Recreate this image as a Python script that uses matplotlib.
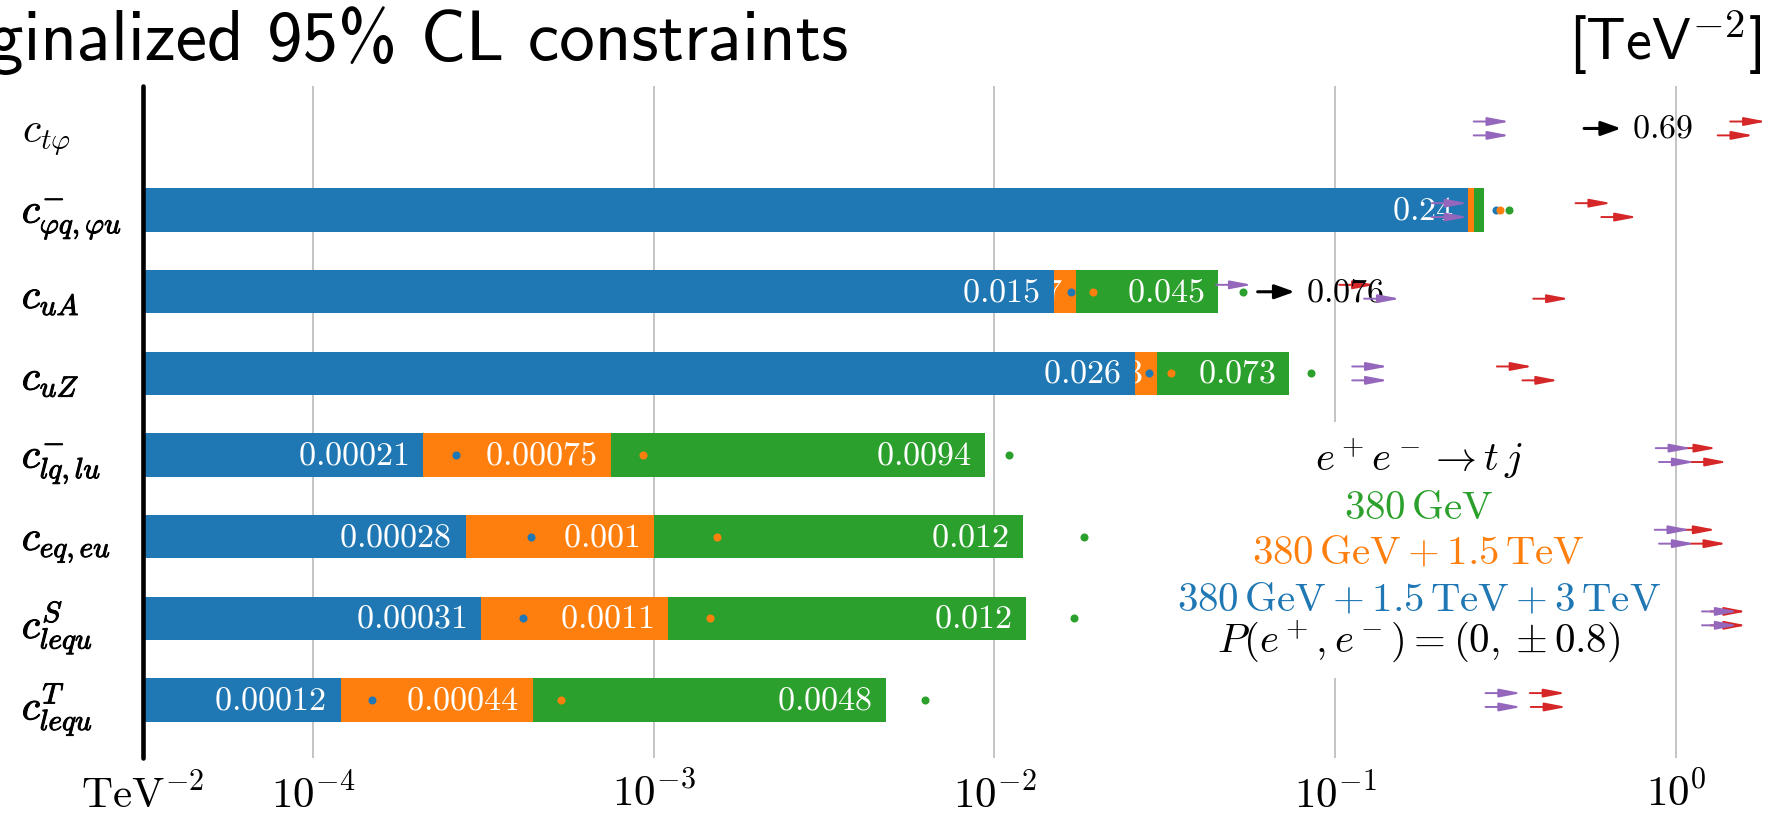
import numpy as np
import matplotlib
matplotlib.use("Agg")
import matplotlib.pyplot as plt
from matplotlib import patheffects
from matplotlib.patches import Rectangle

plt.rcParams['mathtext.fontset'] = 'cm'

nan = np.nan

# ---------------- data ----------------
coefficients = [r'$c_{t\varphi}$', r'$c^{-}_{\varphi q,\varphi u}$', r'$c_{uA}$', r'$c_{uZ}$',
                r'$c^{-}_{lq,lu}$', r'$c_{eq,eu}$', r'$c^{S}_{lequ}$', r'$c^{T}_{lequ}$']
bold_rows = [False, True, True, True, True, True, True, True]

# marginalized 95% CL bounds (bars)
bound_380 = [nan, 0.2725, 0.0454, 0.0734, 0.0094, 0.0121, 0.0124, 0.0048]        # green
bound_1500 = [nan, 0.2546, 0.0174, 0.0299, 0.00075, 0.001, 0.0011, 0.00044]     # orange
bound_3000 = [nan, 0.245, 0.0149, 0.0258, 0.00021, 0.00028, 0.00031, 0.00012]    # blue

# dots
dot_380 = [nan, 0.323, 0.0535, 0.0848, 0.01104, 0.0183, 0.0171, 0.00624]
dot_1500 = [nan, 0.304, 0.0195, 0.0329, 0.000933, 0.00153, 0.00146, 0.000533]
dot_3000 = [nan, 0.296, 0.0168, 0.0284, 0.000262, 0.000437, 0.000413, 0.000149]

# arrows (tip positions), upper / lower of each row
purple_upper = [0.325, 0.245, 0.057, 0.143, 1.112, 1.104, 1.52, 0.352]
purple_lower = [0.325, 0.245, 0.155, 0.143, 1.137, 1.137, 1.52, 0.352]
red_upper = [1.84, 0.647, 0.131, 0.38, 1.316, 1.31, 1.61, 0.475]
red_lower = [1.69, 0.77, 0.486, 0.452, 1.415, 1.408, 1.61, 0.478]
black_arrow = [0.69, nan, 0.076, nan, nan, nan, nan, nan]

xtick_values = [10 ** -4.5, 1e-4, 1e-3, 1e-2, 1e-1, 1e0]
xtick_labels = [r'$\mathrm{TeV}^{-2}$', r'$10^{-4}$', r'$10^{-3}$', r'$10^{-2}$', r'$10^{-1}$', r'$10^{0}$']

legend_lines = [r'$e^+e^- \to t\,j$',
                r'$380\,\mathrm{GeV}$',
                r'$380\,\mathrm{GeV} + 1.5\,\mathrm{TeV}$',
                r'$380\,\mathrm{GeV} + 1.5\,\mathrm{TeV} + 3\,\mathrm{TeV}$',
                r'$P(e^+, e^-) = (0, \pm 0.8)$']

BLUE, ORANGE, GREEN, RED, PURPLE = '#1f77b4', '#ff7f0e', '#2ca02c', '#d62728', '#9467bd'
legend_colors = ['black', GREEN, ORANGE, BLUE, 'black']

# ---------------- figure ----------------
W, H = 1777, 815
fig = plt.figure(figsize=(W / 100, H / 100), dpi=100)
ax_left_px, ax_top_px, ax_bot_px = 142.6, 86, 758
ax = fig.add_axes([ax_left_px / W, (H - ax_bot_px) / H, (W - ax_left_px) / W, (ax_bot_px - ax_top_px) / H])

ax.set_xscale('log')
ax.set_xlim(10 ** -4.5, 10 ** 0.2964)
rows = np.arange(len(coefficients))
ax.set_ylim(7.71, -0.52)

bar_h = 0.53
series = [(bound_380, GREEN, 2.0), (bound_1500, ORANGE, 2.2), (bound_3000, BLUE, 2.4)]
for vals, col, z in series:
    v = np.array(vals, dtype=float)
    ax.barh(rows, v, left=1e-6, height=bar_h, color=col, zorder=z)
    for r, val in zip(rows, v):
        if np.isfinite(val):
            ax.annotate(f'${val:.2g}$', xy=(val, r), xytext=(-14, 0), textcoords='offset pixels',
                        ha='right', va='center', color='white', fontsize=24.5, zorder=z + 0.1)

for vals, col in [(dot_3000, BLUE), (dot_1500, ORANGE), (dot_380, GREEN)]:
    ax.plot(vals, rows, 'o', color=col, ms=5.8, mec='none', zorder=3)


def arrow(x, y, color, length, lw, hl, hw, z):
    ax.annotate('', xy=(x, y), xytext=(-length, 0), textcoords='offset pixels',
                arrowprops=dict(arrowstyle=f'-|>,head_length={hl},head_width={hw}', mutation_scale=10,
                                color=color, lw=lw, shrinkA=0, shrinkB=0),
                zorder=z, annotation_clip=False)


dy = 0.085
for r in rows:
    arrow(red_upper[r], r - dy, RED, 36, 1.4, 1.3, 0.25, 4.0)
    arrow(red_lower[r], r + dy, RED, 36, 1.4, 1.3, 0.25, 4.0)
for r in rows:
    if np.isfinite(black_arrow[r]):
        arrow(black_arrow[r], r, 'black', 37, 2.2, 1.2, 0.43, 4.4)
        ax.annotate(f'${black_arrow[r]:g}$', xy=(black_arrow[r], r), xytext=(11, 0),
                    textcoords='offset pixels', ha='left', va='center', color='black',
                    fontsize=24.5, zorder=4.5)
for r in rows:
    arrow(purple_upper[r], r - dy, PURPLE, 36, 1.4, 1.3, 0.25, 5.0)
    arrow(purple_lower[r], r + dy, PURPLE, 36, 1.4, 1.3, 0.25, 5.0)

# legend box and text
ax.add_patch(Rectangle((0.628, 0.119), 0.30, 0.381, transform=ax.transAxes,
                       facecolor='white', edgecolor='none', zorder=3.5))
legend_y = [0.426, 0.3557, 0.2887, 0.2188, 0.1562]
for txt, col, y in zip(legend_lines, legend_colors, legend_y):
    ax.text(0.7807, y, txt, transform=ax.transAxes, ha='center', va='baseline',
            color=col, fontsize=29.5, zorder=6)

# axes styling
ax.grid(axis='x', which='major', color='#c4c4c4', lw=1.4)
ax.set_axisbelow(True)
ax.minorticks_off()
ax.set_xticks(xtick_values, xtick_labels)
ax.minorticks_off()
ax.set_yticks(rows, coefficients)
ax.tick_params(axis='both', length=0)
ax.tick_params(axis='x', labelsize=31, pad=11)
ax.tick_params(axis='y', labelsize=30, pad=87)
for t, b in zip(ax.get_yticklabels(), bold_rows):
    t.set_horizontalalignment('left')
    if b:
        t.set_path_effects([patheffects.withStroke(linewidth=0.7, foreground='black')])

for s in ['top', 'right', 'bottom']:
    ax.spines[s].set_visible(False)
ax.spines['left'].set_linewidth(3.3)
ax.spines['left'].set_capstyle('round')
ax.spines['left'].set_zorder(7)

# titles
fig.text(848 / W, 1 - 60 / H, 'Marginalized 95% CL constraints', ha='right', va='baseline',
         fontsize=51, family='cmss10')
fig.text(1762 / W, 1 - 60 / H, r'[TeV$^{-2}$]', ha='right', va='baseline',
         fontsize=42, family='cmss10')

fig.savefig('out.png', dpi=100)
